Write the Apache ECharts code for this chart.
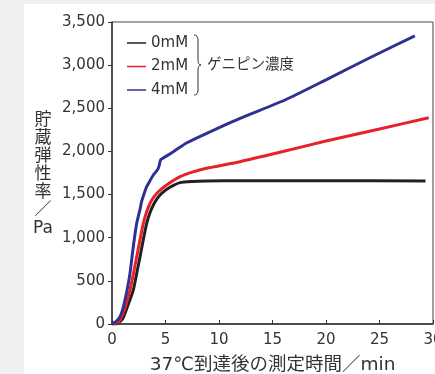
<!DOCTYPE html>
<html><head><meta charset="utf-8">
<script src="https://cdn.jsdelivr.net/npm/echarts@6/dist/echarts.min.js"></script>
<style>
html,body{margin:0;padding:0;background:#eef0f2;}
#panel{position:absolute;left:24px;top:4px;width:411px;height:370px;background:#fff;}
#chart{position:absolute;left:0;top:0;width:435px;height:374px;}
</style></head>
<body><div id="panel"></div><div id="chart"></div>
<script>
// Data
const seriesNames = ['0mM', '2mM', '4mM'];
const x0mM = [0, 0.5, 1.0, 1.5, 1.99, 2.3, 2.62, 2.93, 3.24, 3.55, 3.86, 4.25, 4.64, 5.42, 6.36, 7.5, 8.85, 12, 20, 29.3];
const y0mM = [0, 5, 60, 220, 394, 580, 780, 980, 1167, 1290, 1379, 1460, 1515, 1584, 1638, 1652, 1657, 1660, 1660, 1657];
const x2mM = [0, 0.5, 0.75, 1.2, 1.68, 2.0, 2.31, 2.62, 2.93, 3.24, 3.55, 3.9, 4.33, 5.11, 6.36, 7.5, 8.85, 11.96, 15.7, 20, 25, 29.6];
const y2mM = [0, 15, 46, 180, 394, 580, 780, 980, 1167, 1300, 1399, 1470, 1533, 1611, 1707, 1760, 1805, 1881, 1990, 2120, 2260, 2390];
const x4mM = [0, 0.4, 0.75, 1.0, 1.21, 1.45, 1.68, 1.99, 2.31, 2.62, 2.77, 3.0, 3.24, 3.55, 3.86, 4.24, 4.4, 4.55, 5.0, 5.73, 7, 8.85, 11.96, 16.17, 20, 24, 28.3];
const y4mM = [0, 30, 85, 170, 278, 420, 587, 896, 1167, 1330, 1420, 1510, 1591, 1660, 1727, 1785, 1830, 1905, 1940, 1997, 2100, 2210, 2384, 2596, 2830, 3080, 3340];
const xTicks = [0, 5, 10, 15, 20, 25, 30];
const yTicks = [0, 500, 1000, 1500, 2000, 2500, 3000, 3500];
const yTickLabels = ['0', '500', '1,000', '1,500', '2,000', '2,500', '3,000', '3,500'];
const xTitle = '37℃到達後の測定時間／min';
const yTitle = ['貯', '蔵', '弾', '性', '率', '／', 'Pa'];
const legendGroupLabel = 'ゲニピン濃度';
const colors = ['#231f20', '#e8202a', '#2e3192'];

const pairs = (xs, ys) => xs.map((x, i) => [x, ys[i]]);
const FONT = '"DejaVu Sans","Noto Sans CJK JP",sans-serif';
const braceStyle = {stroke: '#333', lineWidth: 1, fill: null};

const chart = echarts.init(document.getElementById('chart'), null, {renderer: 'canvas'});
chart.setOption({
  backgroundColor: 'transparent',
  animation: false,
  color: colors,
  grid: {left: 112, top: 22, right: 2, bottom: 50, containLabel: false, outerBoundsMode: 'none',
    show: true, borderColor: '#444', borderWidth: 1, backgroundColor: 'transparent'},
  legend: {
    data: seriesNames, orient: 'vertical', left: 127, top: 35, padding: 0,
    icon: 'rect', itemWidth: 19, itemHeight: 1.5, itemGap: 7.5,
    textStyle: {fontFamily: FONT, fontSize: 15, color: '#333', lineHeight: 16}
  },
  xAxis: {
    type: 'value', min: xTicks[0], max: xTicks[xTicks.length - 1], interval: 5,
    name: xTitle, nameLocation: 'middle', nameGap: 32, nameMoveOverlap: false,
    nameTextStyle: {fontFamily: FONT, fontSize: 18.5, color: '#333'},
    axisLine: {show: true, lineStyle: {color: '#333', width: 1.5}},
    axisTick: {show: true, inside: true, length: 4, lineStyle: {color: '#333'}},
    axisLabel: {margin: 8.5, fontFamily: FONT, fontSize: 15, color: '#333', hideOverlap: false},
    splitLine: {show: false}
  },
  yAxis: {
    type: 'value', min: yTicks[0], max: yTicks[yTicks.length - 1], interval: 500,
    axisLine: {show: true, lineStyle: {color: '#333', width: 1.5}},
    axisTick: {show: true, inside: false, length: 4, lineStyle: {color: '#333'}},
    axisLabel: {margin: 7, fontFamily: FONT, fontSize: 15, color: '#333', hideOverlap: false,
      formatter: v => yTickLabels[yTicks.indexOf(v)]},
    splitLine: {show: false}
  },
  graphic: [
    {type: 'text', x: 43, y: 112, style: {text: yTitle.join('\n'), fill: '#333', font: '17px ' + FONT, lineHeight: 18, align: 'center', verticalAlign: 'top'}},
    {type: 'bezierCurve', shape: {x1: 194, y1: 35, cpx1: 198, cpy1: 35, x2: 198, y2: 40}, style: braceStyle},
    {type: 'line', shape: {x1: 198, y1: 40, x2: 198, y2: 60}, style: braceStyle},
    {type: 'bezierCurve', shape: {x1: 198, y1: 60, cpx1: 198, cpy1: 65, x2: 201, y2: 65}, style: braceStyle},
    {type: 'bezierCurve', shape: {x1: 201, y1: 65, cpx1: 198, cpy1: 65, x2: 198, y2: 70}, style: braceStyle},
    {type: 'line', shape: {x1: 198, y1: 70, x2: 198, y2: 90}, style: braceStyle},
    {type: 'bezierCurve', shape: {x1: 198, y1: 90, cpx1: 198, cpy1: 95, x2: 194, y2: 95}, style: braceStyle},
    {type: 'text', x: 207, y: 65, style: {text: legendGroupLabel, fill: '#333', font: '14.5px ' + FONT, verticalAlign: 'middle'}}
  ],
  series: [
    {name: seriesNames[0], type: 'line', data: pairs(x0mM, y0mM), showSymbol: false, smooth: 0.2, lineStyle: {width: 3, color: colors[0]}},
    {name: seriesNames[1], type: 'line', data: pairs(x2mM, y2mM), showSymbol: false, smooth: 0.2, lineStyle: {width: 3, color: colors[1]}},
    {name: seriesNames[2], type: 'line', data: pairs(x4mM, y4mM), showSymbol: false, smooth: 0.2, lineStyle: {width: 3, color: colors[2]}}
  ]
});
</script></body></html>
